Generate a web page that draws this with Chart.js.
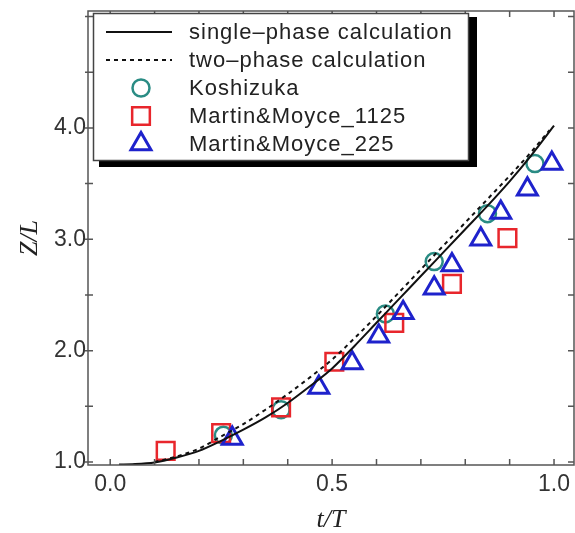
<!DOCTYPE html>
<html>
<head>
<meta charset="utf-8">
<script src="https://cdn.jsdelivr.net/npm/chart.js@4.4.1/dist/chart.umd.min.js"></script>
<style>
  html, body { margin: 0; padding: 0; background: #fff; }
  canvas { display: block; }
</style>
</head>
<body>
<canvas id="chart" width="575" height="533"></canvas>
<script>
// curves
const singleT = [0.02, 0.05, 0.10, 0.15, 0.20, 0.25, 0.30, 0.35, 0.40, 0.45, 0.50, 0.55, 0.60, 0.65, 0.70, 0.75, 0.80, 0.85, 0.90, 0.95, 1.00]
const singleZ = [0.978, 0.98, 0.995, 1.04, 1.10, 1.19, 1.29, 1.40, 1.53, 1.68, 1.84, 2.04, 2.25, 2.46, 2.67, 2.88, 3.09, 3.30, 3.52, 3.76, 4.02]
const twoT = [0.10, 0.15, 0.20, 0.25, 0.30, 0.35, 0.40, 0.45, 0.50, 0.55, 0.60, 0.65, 0.70, 0.75, 0.80, 0.85, 0.90, 0.95, 0.99]
const twoZ = [1.00, 1.05, 1.12, 1.23, 1.34, 1.47, 1.61, 1.76, 1.92, 2.11, 2.31, 2.52, 2.73, 2.94, 3.15, 3.36, 3.57, 3.79, 3.98]

// measurements
const koshiT = [0.255, 0.385, 0.62, 0.73, 0.85, 0.957]
const koshiZ = [1.24, 1.47, 2.33, 2.80, 3.23, 3.68]
const mm1125T = [0.125, 0.25, 0.385, 0.505, 0.64, 0.77, 0.895]
const mm1125Z = [1.10, 1.26, 1.49, 1.90, 2.25, 2.60, 3.01]
const mm225T = [0.275, 0.47, 0.545, 0.605, 0.66, 0.73, 0.77, 0.835, 0.88, 0.94, 0.995]
const mm225Z = [1.21, 1.67, 1.89, 2.13, 2.34, 2.56, 2.77, 3.00, 3.24, 3.45, 3.68]

const xTicks = [0.0, 0.1, 0.2, 0.3, 0.4, 0.5, 0.6, 0.7, 0.8, 0.9, 1.0]
const xLabels = [0.0, 0.5, 1.0]
const yTicks = [1.0, 1.5, 2.0, 2.5, 3.0, 3.5, 4.0, 4.5, 5.0]
const yLabels = [1.0, 2.0, 3.0, 4.0]

const pts = (xs, ys) => xs.map((x, i) => ({ x: x, y: ys[i] }))

const frame = {
  id: 'frame',
  afterDatasetsDraw(chart) {
    const { ctx, chartArea: a, scales: { x, y } } = chart
    ctx.save()
    ctx.strokeStyle = '#555'
    ctx.lineWidth = 1.5
    ctx.strokeRect(a.left, a.top, a.right - a.left, a.bottom - a.top)
    ctx.beginPath()
    x.ticks.forEach(t => {
      const px = x.getPixelForValue(t.value)
      ctx.moveTo(px, a.bottom); ctx.lineTo(px, a.bottom - 6)
      ctx.moveTo(px, a.top); ctx.lineTo(px, a.top + 6)
    })
    y.ticks.forEach(t => {
      const py = y.getPixelForValue(t.value)
      ctx.moveTo(a.left - 3, py); ctx.lineTo(a.left + 5, py)
      ctx.moveTo(a.right, py); ctx.lineTo(a.right - 6, py)
    })
    ctx.stroke()
    ctx.restore()
  }
}

function marker(ctx, style, x, y, r) {
  ctx.beginPath()
  if (style === 'circle') {
    ctx.arc(x, y, r, 0, Math.PI * 2)
  } else if (style === 'rect') {
    const s = r * Math.SQRT1_2
    ctx.rect(x - s, y - s, 2 * s, 2 * s)
  } else {
    ctx.moveTo(x, y - r)
    ctx.lineTo(x + r * Math.sin(Math.PI / 3), y + r / 2)
    ctx.lineTo(x - r * Math.sin(Math.PI / 3), y + r / 2)
    ctx.closePath()
  }
  ctx.stroke()
}

const boxLegend = {
  id: 'boxLegend',
  afterDraw(chart) {
    const ctx = chart.ctx
    ctx.save()
    // shadow
    ctx.fillStyle = '#000'
    ctx.fillRect(99, 161, 378, 6)
    ctx.fillRect(469, 17, 8, 150)
    // box
    ctx.fillStyle = '#fff'
    ctx.fillRect(93.5, 13.5, 375, 147)
    ctx.strokeStyle = '#444'
    ctx.lineWidth = 1.5
    ctx.strokeRect(93.5, 13.5, 375, 147)

    ctx.font = '22px "Liberation Sans", Arial, sans-serif'
    ctx.letterSpacing = '1px'
    ctx.textBaseline = 'middle'
    ctx.textAlign = 'left'
    chart.data.datasets.forEach((ds, i) => {
      const yy = 32 + i * 28
      ctx.strokeStyle = ds.borderColor
      ctx.lineWidth = ds.borderWidth
      if (ds.showLine) {
        ctx.setLineDash(ds.borderDash || [])
        ctx.beginPath()
        ctx.moveTo(106, yy); ctx.lineTo(172, yy)
        ctx.stroke()
        ctx.setLineDash([])
      } else {
        marker(ctx, ds.pointStyle, 141, yy, ds.legendR)
      }
      ctx.fillStyle = '#222'
      ctx.fillText(ds.label, 189, yy + 1)
    })
    ctx.restore()
  }
}

new Chart(document.getElementById('chart'), {
  type: 'scatter',
  data: {
    datasets: [
      {
        label: 'single\u2013phase calculation',
        data: pts(singleT, singleZ),
        showLine: true, pointRadius: 0, borderColor: '#111', borderWidth: 2,
        cubicInterpolationMode: 'monotone', order: 1
      },
      {
        label: 'two\u2013phase calculation',
        data: pts(twoT, twoZ),
        showLine: true, pointRadius: 0, borderColor: '#111', borderWidth: 2,
        borderDash: [4, 4], cubicInterpolationMode: 'monotone', order: 2
      },
      {
        label: 'Koshizuka',
        data: pts(koshiT, koshiZ),
        pointStyle: 'circle', pointRadius: 8.5, legendR: 8.5,
        borderColor: '#2a8c84', pointBorderWidth: 2.5, borderWidth: 2.5,
        backgroundColor: 'rgba(0,0,0,0)', order: 5
      },
      {
        label: 'Martin&Moyce_1125',
        data: pts(mm1125T, mm1125Z),
        pointStyle: 'rect', pointRadius: 12.5, legendR: 12.5,
        borderColor: '#e8262c', pointBorderWidth: 2.5, borderWidth: 2.5,
        backgroundColor: 'rgba(0,0,0,0)', order: 4
      },
      {
        label: 'Martin&Moyce_225',
        data: pts(mm225T, mm225Z),
        pointStyle: 'triangle', pointRadius: 11.5, legendR: 11.5,
        borderColor: '#1e22cc', pointBorderWidth: 3, borderWidth: 3,
        backgroundColor: 'rgba(0,0,0,0)', order: 3
      }
    ]
  },
  options: {
    responsive: false,
    animation: false,
    layout: { autoPadding: false, padding: { top: 11, right: 1, left: 0, bottom: 0 } },
    plugins: { legend: { display: false }, tooltip: { enabled: false } },
    scales: {
      x: {
        type: 'linear', min: -0.05, max: 1.045,
        afterBuildTicks: s => { s.ticks = xTicks.map(v => ({ value: v })) },
        afterFit: s => { s.height = 68; s.paddingLeft = 0; s.paddingRight = 0 },
        grid: { display: false, drawTicks: false },
        border: { display: false },
        ticks: {
          autoSkip: false, maxRotation: 0, padding: 6, color: '#333',
          font: { family: '"Liberation Sans", Arial, sans-serif', size: 23 },
          callback: v => xLabels.includes(v) ? v.toFixed(1) : ''
        },
        title: {
          display: true, text: 't/T', color: '#222',
          font: { family: '"Liberation Serif", "Times New Roman", serif', size: 26, style: 'italic', lineHeight: 1 },
          padding: { top: 0, bottom: 0 }
        }
      },
      y: {
        type: 'linear', min: 0.973, max: 5.05,
        afterBuildTicks: s => { s.ticks = yTicks.map(v => ({ value: v })) },
        afterFit: s => { s.width = 88; s.paddingTop = 0; s.paddingBottom = 0 },
        grid: { display: false, drawTicks: false },
        border: { display: false },
        ticks: {
          autoSkip: false, padding: 2, color: '#333',
          font: { family: '"Liberation Sans", Arial, sans-serif', size: 23 },
          callback: v => yLabels.includes(v) ? v.toFixed(1) : ''
        },
        title: {
          display: true, text: 'Z/L', color: '#222',
          font: { family: '"Liberation Serif", "Times New Roman", serif', size: 26, style: 'italic', lineHeight: 1 },
          padding: { top: 17, bottom: 0 }
        }
      }
    }
  },
  plugins: [frame, boxLegend]
})
</script>
</body>
</html>
